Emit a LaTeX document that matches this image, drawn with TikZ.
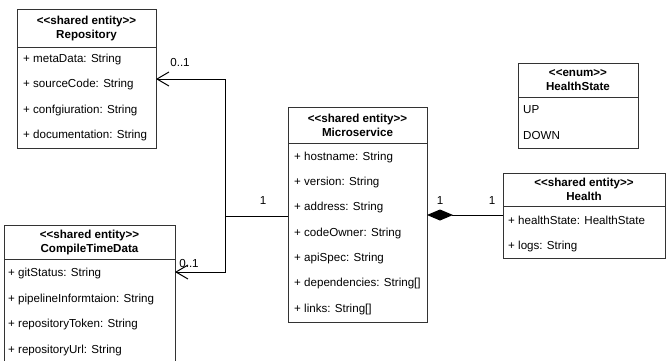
\documentclass[tikz,border=0pt]{standalone}
\usepackage{fontspec}
\setmainfont{Liberation Sans}
\usetikzlibrary{arrows.meta}
\definecolor{boxline}{HTML}{333333}
\newcommand{\stereo}[1]{<{}<#1>{}>}
\tikzset{
  cls/.style={draw=boxline, line width=1pt, fill=white, anchor=north west, inner sep=0pt},
  hdr/.style={font=\fontsize{11.6}{14}\selectfont\bfseries, align=center, inner sep=0pt},
  attr/.style={font=\fontsize{11.6}{14}\selectfont, anchor=west, inner sep=0pt},
  mult/.style={font=\fontsize{11.6}{14}\selectfont, inner sep=0pt},
  conn/.style={draw=black, line width=1pt},
  openarrow/.style={-{Straight Barb[length=12pt,width=14pt,line width=1pt]}},
}
\begin{document}
\begin{tikzpicture}[x=1pt,y=-1pt]
\useasboundingbox (0,0) rectangle (667,360);
\clip (0,0) rectangle (667,360);

% Repository
\node[cls, minimum width=139pt, minimum height=139pt] (repo) at (17,9) {};
\draw[boxline, line width=1pt] (17,47) -- (156,47);
\node[hdr] (repoh) at (86.5,28) {\stereo{shared entity}\\Repository};
\node[attr] (r1) at (23,59) {+ metaData: String};
\node[attr] (r2) at (23,84.5) {+ sourceCode: String};
\node[attr] (r3) at (23,110) {+ confgiuration: String};
\node[attr] (r4) at (23,135.5) {+ documentation: String};

% CompileTimeData
\node[cls, minimum width=171pt, minimum height=145pt] (ctd) at (4,225) {};
\draw[boxline, line width=1pt] (4,259) -- (175,259);
\node[hdr] (ctdh) at (89.5,242) {\stereo{shared entity}\\CompileTimeData};
\node[attr] (c1) at (8,273) {+ gitStatus: String};
\node[attr] (c2) at (8,299) {+ pipelineInformtaion: String};
\node[attr] (c3) at (8,324.5) {+ repositoryToken: String};
\node[attr] (c4) at (8,350) {+ repositoryUrl: String};

% Microservice
\node[cls, minimum width=139pt, minimum height=215pt] (ms) at (288,107) {};
\draw[boxline, line width=1pt] (288,143) -- (427,143);
\node[hdr] (msh) at (357.5,125) {\stereo{shared entity}\\Microservice};
\node[attr] (m1) at (294,157) {+ hostname: String};
\node[attr] (m2) at (294,182) {+ version: String};
\node[attr] (m3) at (294,207.5) {+ address: String};
\node[attr] (m4) at (294,233) {+ codeOwner: String};
\node[attr] (m5) at (294,258) {+ apiSpec: String};
\node[attr] (m6) at (294,283.5) {+ dependencies: String[]};
\node[attr] (m7) at (294,309) {+ links: String[]};

% HealthState
\node[cls, minimum width=120pt, minimum height=85pt] (hs) at (518,63) {};
\draw[boxline, line width=1pt] (518,97) -- (638,97);
\node[hdr] (hsh) at (578,80) {\stereo{enum}\\HealthState};
\node[attr] (h1) at (523,110) {UP};
\node[attr] (h2) at (523,135.5) {DOWN};

% Health
\node[cls, minimum width=162pt, minimum height=85pt] (health) at (503,173) {};
\draw[boxline, line width=1pt] (503,206) -- (665,206);
\node[hdr] (healthh) at (584,189.5) {\stereo{shared entity}\\Health};
\node[attr] (e1) at (508,220.5) {+ healthState: HealthState};
\node[attr] (e2) at (508,246) {+ logs: String};

% Associations
\coordinate (j) at (225,216);
\coordinate (ctdin) at (175,272);
\coordinate (repoin) at (156,79);
\draw[conn] (ms.west |- j) -- (j);
\draw[conn, openarrow] (j) |- (repoin);
\draw[conn, openarrow] (j) |- (ctdin);
\node[mult] (l1) at (263,201) {1};
\node[mult] (l2) at (180,63) {0..1};
\node[mult] (l3) at (189,263) {0..1};

% Composition
\coordinate (msout) at (427,215);
\draw[conn, {Diamond[length=26pt,width=11pt]}-] (msout) -- (msout -| health.west);
\node[mult] (l4) at (440,201) {1};
\node[mult] (l5) at (492,201) {1};
\end{tikzpicture}
\end{document}
